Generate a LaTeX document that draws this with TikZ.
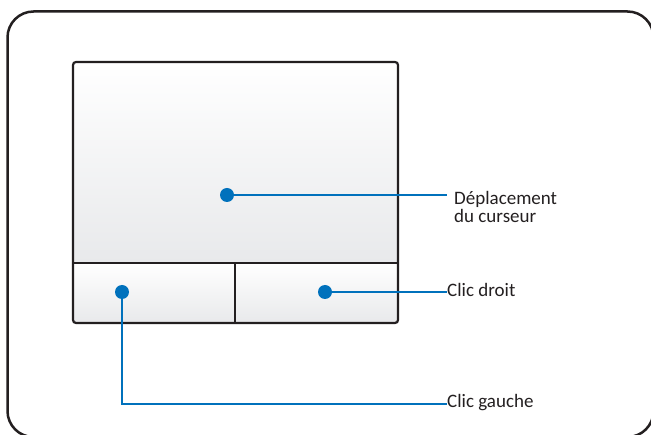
\documentclass[tikz,border=0pt]{standalone}
\usepackage{fontspec}
\setmainfont{Carlito}
\usepackage{xcolor}
\usepackage{tikz}
\usetikzlibrary{positioning,calc}

\definecolor{leadblue}{RGB}{0,113,188}
\definecolor{edgegray}{RGB}{35,31,32}
\definecolor{padgray}{RGB}{232,233,235}

\begin{document}
\begin{tikzpicture}[x=1pt, y=-1pt,
    frame/.style={draw=edgegray, line width=2.5pt, rounded corners=26pt},
    padedge/.style={draw=edgegray, line width=2.2pt},
    spot/.style={circle, fill=leadblue, inner sep=0pt, minimum size=14pt},
    lead/.style={draw=leadblue, line width=2.6pt},
    tag/.style={inner sep=0pt, text=edgegray, font=\fontsize{19}{18}\selectfont, align=left}]

    \useasboundingbox (0,0) rectangle (651,435);
    \clip (0,0) rectangle (651,435);

    % Outer frame
    \draw[frame] (7.5,11.5) rectangle (653.5,437);

    % Touchpad surface and buttons
    \shade[top color=white, middle color=white, bottom color=padgray] (73,62) rectangle (398,263);
    \shade[top color=white, bottom color=padgray] (73,263) rectangle (235,323);
    \shade[top color=white, bottom color=padgray] (235,263) rectangle (398,323);
    \draw[padedge, rounded corners=3pt] (73,62) rectangle (398,323);
    \draw[padedge] (73,263) -- (398,263);
    \draw[padedge] (235,263) -- (235,323);

    % Spots
    \node[spot] (movespot) at (227,195) {};
    \node[spot] (leftspot) at (122,292) {};
    \node[spot] (rightspot) at (325,292) {};

    % Label ends
    \coordinate (movetip) at (447,195);
    \coordinate (righttip) at (447,292);
    \coordinate (lefttip) at (447,404);

    % Labels
    \node[tag, anchor=base west] (movelbl) at (454,223) {Déplacement\\du curseur};
    \node[tag, anchor=base west] (rightlbl) at (447,297) {Clic droit};
    \node[tag, anchor=base west] (leftlbl) at (447,408) {Clic gauche};

    % Leads
    \draw[lead] (movespot) -- (movetip);
    \draw[lead] (rightspot) -- (righttip);
    \draw[lead] (leftspot) |- (lefttip);

\end{tikzpicture}
\end{document}
